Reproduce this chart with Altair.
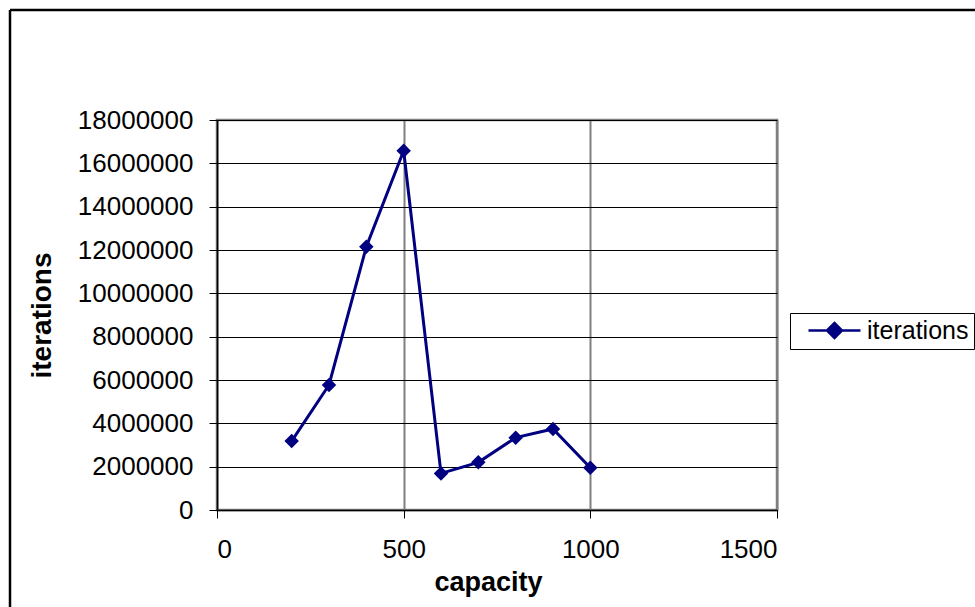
import altair as alt
import pandas as pd

capacity = [200, 300, 400, 500, 600, 700, 800, 900, 1000]
iterations = [3180000, 5770000, 12150000, 16580000, 1690000, 2200000, 3340000, 3740000, 1950000]
series_name = ["iterations"] * len(capacity)

x_ticks = [0, 500, 1000, 1500]
y_ticks = [0, 2000000, 4000000, 6000000, 8000000, 10000000, 12000000, 14000000, 16000000, 18000000]

df = pd.DataFrame({"capacity": capacity, "iterations": iterations, "series": series_name})

FONT = "Liberation Sans"
NAVY = "#000080"

x_enc = alt.X(
    "capacity:Q",
    scale=alt.Scale(domain=[0, 1500], nice=False, zero=True),
    axis=alt.Axis(
        values=x_ticks, format="d", title="capacity", grid=True, gridColor="#808080", gridWidth=2,
        tickSize=8, tickColor="black", domainColor="black", domainWidth=1.5,
        labelFontSize=26, labelFont=FONT, labelColor="black", labelPadding=18,
        titleFontSize=27, titleFont=FONT, titleFontWeight="bold", titleColor="black",
        titleX=271, titleY=80, titleBaseline="alphabetic", titleAnchor="start", titleAlign="center",
    ),
)
y_enc = alt.Y(
    "iterations:Q",
    scale=alt.Scale(domain=[0, 18000000], nice=False),
    axis=alt.Axis(
        values=y_ticks, format="d", title="iterations", grid=True, gridColor="black", gridWidth=1,
        tickSize=8, tickColor="black", domainColor="black", domainWidth=1.5,
        labelFontSize=26, labelFont=FONT, labelColor="black", labelPadding=16,
        titleFontSize=28, titleFont=FONT, titleFontWeight="bold", titleColor="black",
        titleX=-167, titleY=195, titleAngle=270, titleBaseline="alphabetic", titleAlign="center",
    ),
)

base = alt.Chart(df)

line = base.mark_line(color=NAVY, strokeWidth=3).encode(x=x_enc, y=y_enc)

legend_path = "M0.1,0L5.3,0M1.95,0L2.7,-0.75L3.45,0L2.7,0.75Z"

points = base.mark_point(shape="diamond", filled=True, size=210, opacity=1).encode(
    x="capacity:Q",
    y="iterations:Q",
    color=alt.Color(
        "series:N",
        scale=alt.Scale(range=[NAVY]),
        legend=alt.Legend(
            title=None, orient="none", legendX=573, legendY=193,
            symbolType=legend_path, symbolSize=400, symbolStrokeWidth=2.5,
            symbolStrokeColor=NAVY, symbolFillColor=NAVY, symbolOpacity=1,
            labelFontSize=25, labelFont=FONT, labelColor="black", labelOffset=47,
            padding=5, strokeColor="black", fillColor="white",
        ),
    ),
)

frame = alt.Chart(pd.DataFrame({"k": [0]}))
left_border = frame.mark_rule(color="black", strokeWidth=2.5).encode(
    x=alt.value(-207), y=alt.value(-110), y2=alt.value(500)
)
top_border = frame.mark_rule(color="black", strokeWidth=2.5).encode(
    x=alt.value(-207), x2=alt.value(770), y=alt.value(-110)
)

chart = alt.layer(line, points, left_border, top_border).properties(
    width=560,
    height=390,
    autosize=alt.AutoSizeParams(type="none"),
    padding={"left": 217, "top": 120, "right": 198, "bottom": 97},
    background="white",
).configure_view(stroke="#808080", strokeWidth=2.5)

chart.save("out.html", embed_options={"renderer": "svg", "actions": False})
